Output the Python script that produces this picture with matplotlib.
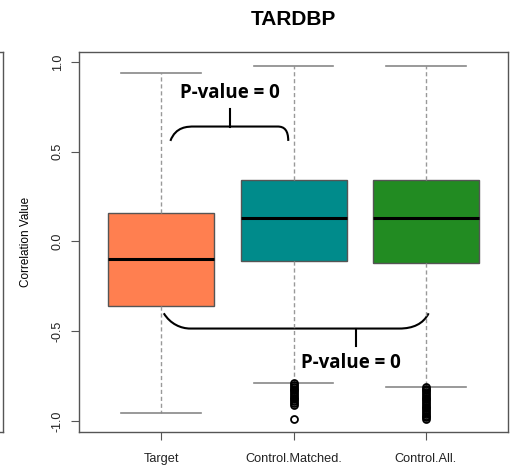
import matplotlib
matplotlib.use('Agg')
import matplotlib.pyplot as plt
from matplotlib.path import Path
import matplotlib.patches as patches
import numpy as np

plt.rcParams['font.family'] = ['Liberation Sans', 'DejaVu Sans']

# groups and box statistics
groups = ['Target', 'Control.Matched.', 'Control.All.']
colors = ['#FF7F50', '#008B8B', '#228B22']
whislo = [-0.958, -0.786, -0.808]
q1 = [-0.357, -0.108, -0.118]
med = [-0.098, 0.129, 0.129]
q3 = [0.156, 0.340, 0.340]
whishi = [0.936, 0.976, 0.976]
fliers_matched = [-0.79, -0.80, -0.81, -0.82, -0.83, -0.84, -0.85, -0.86,
                  -0.87, -0.88, -0.89, -0.90, -0.91, -0.99]
fliers_all = [-0.81, -0.82, -0.83, -0.84, -0.85, -0.86, -0.87, -0.88,
              -0.89, -0.90, -0.91, -0.92, -0.93, -0.94, -0.95, -0.96,
              -0.97, -0.98, -0.99]
fliers = [[], fliers_matched, fliers_all]
pval_text = 'P-value = 0'

fig = plt.figure(figsize=(5.2, 4.67), dpi=100)
ax = fig.add_axes([0.152, 0.075, 0.825, 0.814])

stats = []
for i in range(len(groups)):
    stats.append(dict(label=groups[i], whislo=whislo[i], q1=q1[i], med=med[i],
                      q3=q3[i], whishi=whishi[i], fliers=fliers[i]))

bp = ax.bxp(stats, positions=[1, 2, 3], widths=0.8, patch_artist=True,
            boxprops=dict(edgecolor='#555555', linewidth=1.0),
            medianprops=dict(color='black', linewidth=2.2),
            whiskerprops=dict(color='#999999', linestyle=(0, (3, 2)), linewidth=1.0),
            capprops=dict(color='#888888', linewidth=1.2),
            flierprops=dict(marker='o', markerfacecolor='none', markeredgecolor='black',
                            markersize=5, markeredgewidth=1.3))
for patch, c in zip(bp['boxes'], colors):
    patch.set_facecolor(c)
# caps wider like R (half box width)
for cap in bp['caps']:
    x = cap.get_xdata()
    xc = np.mean(x)
    cap.set_xdata([xc - 0.3, xc + 0.3])

ax.set_xlim(0.38, 3.62)
ax.set_ylim(-1.061, 1.056)
ax.set_yticks([-1.0, -0.5, 0.0, 0.5, 1.0])
ax.set_yticklabels(['-1.0', '-0.5', '0.0', '0.5', '1.0'], rotation=90, va='center',
                   fontsize=9, color='#222222')
ax.set_xticks([1, 2, 3])
ax.set_xticklabels(groups, fontsize=9.2, color='#222222')
ax.tick_params(axis='both', direction='out', length=6, color='#555555')
ax.tick_params(axis='x', pad=9)
ax.tick_params(axis='y', pad=5)
for sp in ax.spines.values():
    sp.set_color('#555555')
    sp.set_linewidth(1.0)
ax.set_ylabel('Correlation Value', fontsize=8.5, labelpad=14)
ax.set_title('TARDBP', fontsize=15, fontweight='bold', pad=19)

# top brace: Target vs Control.Matched.
verts = [(1.07, 0.56), (1.11, 0.64), (1.2, 0.64), (1.25, 0.64),
         (1.88, 0.64),
         (1.93, 0.64), (1.96, 0.62), (1.96, 0.56)]
codes = [Path.MOVETO, Path.CURVE4, Path.CURVE4, Path.CURVE4,
         Path.LINETO, Path.CURVE4, Path.CURVE4, Path.CURVE4]
ax.add_patch(patches.PathPatch(Path(verts, codes), fill=False, lw=1.5, color='black'))
ax.plot([1.52, 1.52], [0.64, 0.735], color='black', lw=1.5)
ax.text(1.52, 0.825, pval_text, ha='center', va='center', fontsize=13.5,
        fontweight='bold', family='Open Sans')

# bottom brace: Target vs Control.All.
verts = [(1.02, -0.4), (1.07, -0.46), (1.15, -0.485), (1.22, -0.485),
         (2.8, -0.485),
         (2.9, -0.485), (2.98, -0.46), (3.02, -0.4)]
ax.add_patch(patches.PathPatch(Path(verts, codes), fill=False, lw=1.5, color='black'))
ax.plot([2.47, 2.47], [-0.485, -0.58], color='black', lw=1.5)
ax.text(2.43, -0.675, pval_text, ha='center', va='center', fontsize=13.5,
        fontweight='bold', family='Open Sans')

# edge of the neighbouring panel
fig.add_artist(plt.Line2D([0.006, 0.006], [0.075, 0.889], color='#555555', lw=1.0))
fig.add_artist(plt.Line2D([0.0, 0.006], [0.889, 0.889], color='#555555', lw=1.0))
fig.add_artist(plt.Line2D([0.0, 0.006], [0.075, 0.075], color='#555555', lw=1.0))

plt.savefig('out.png', dpi=100)
